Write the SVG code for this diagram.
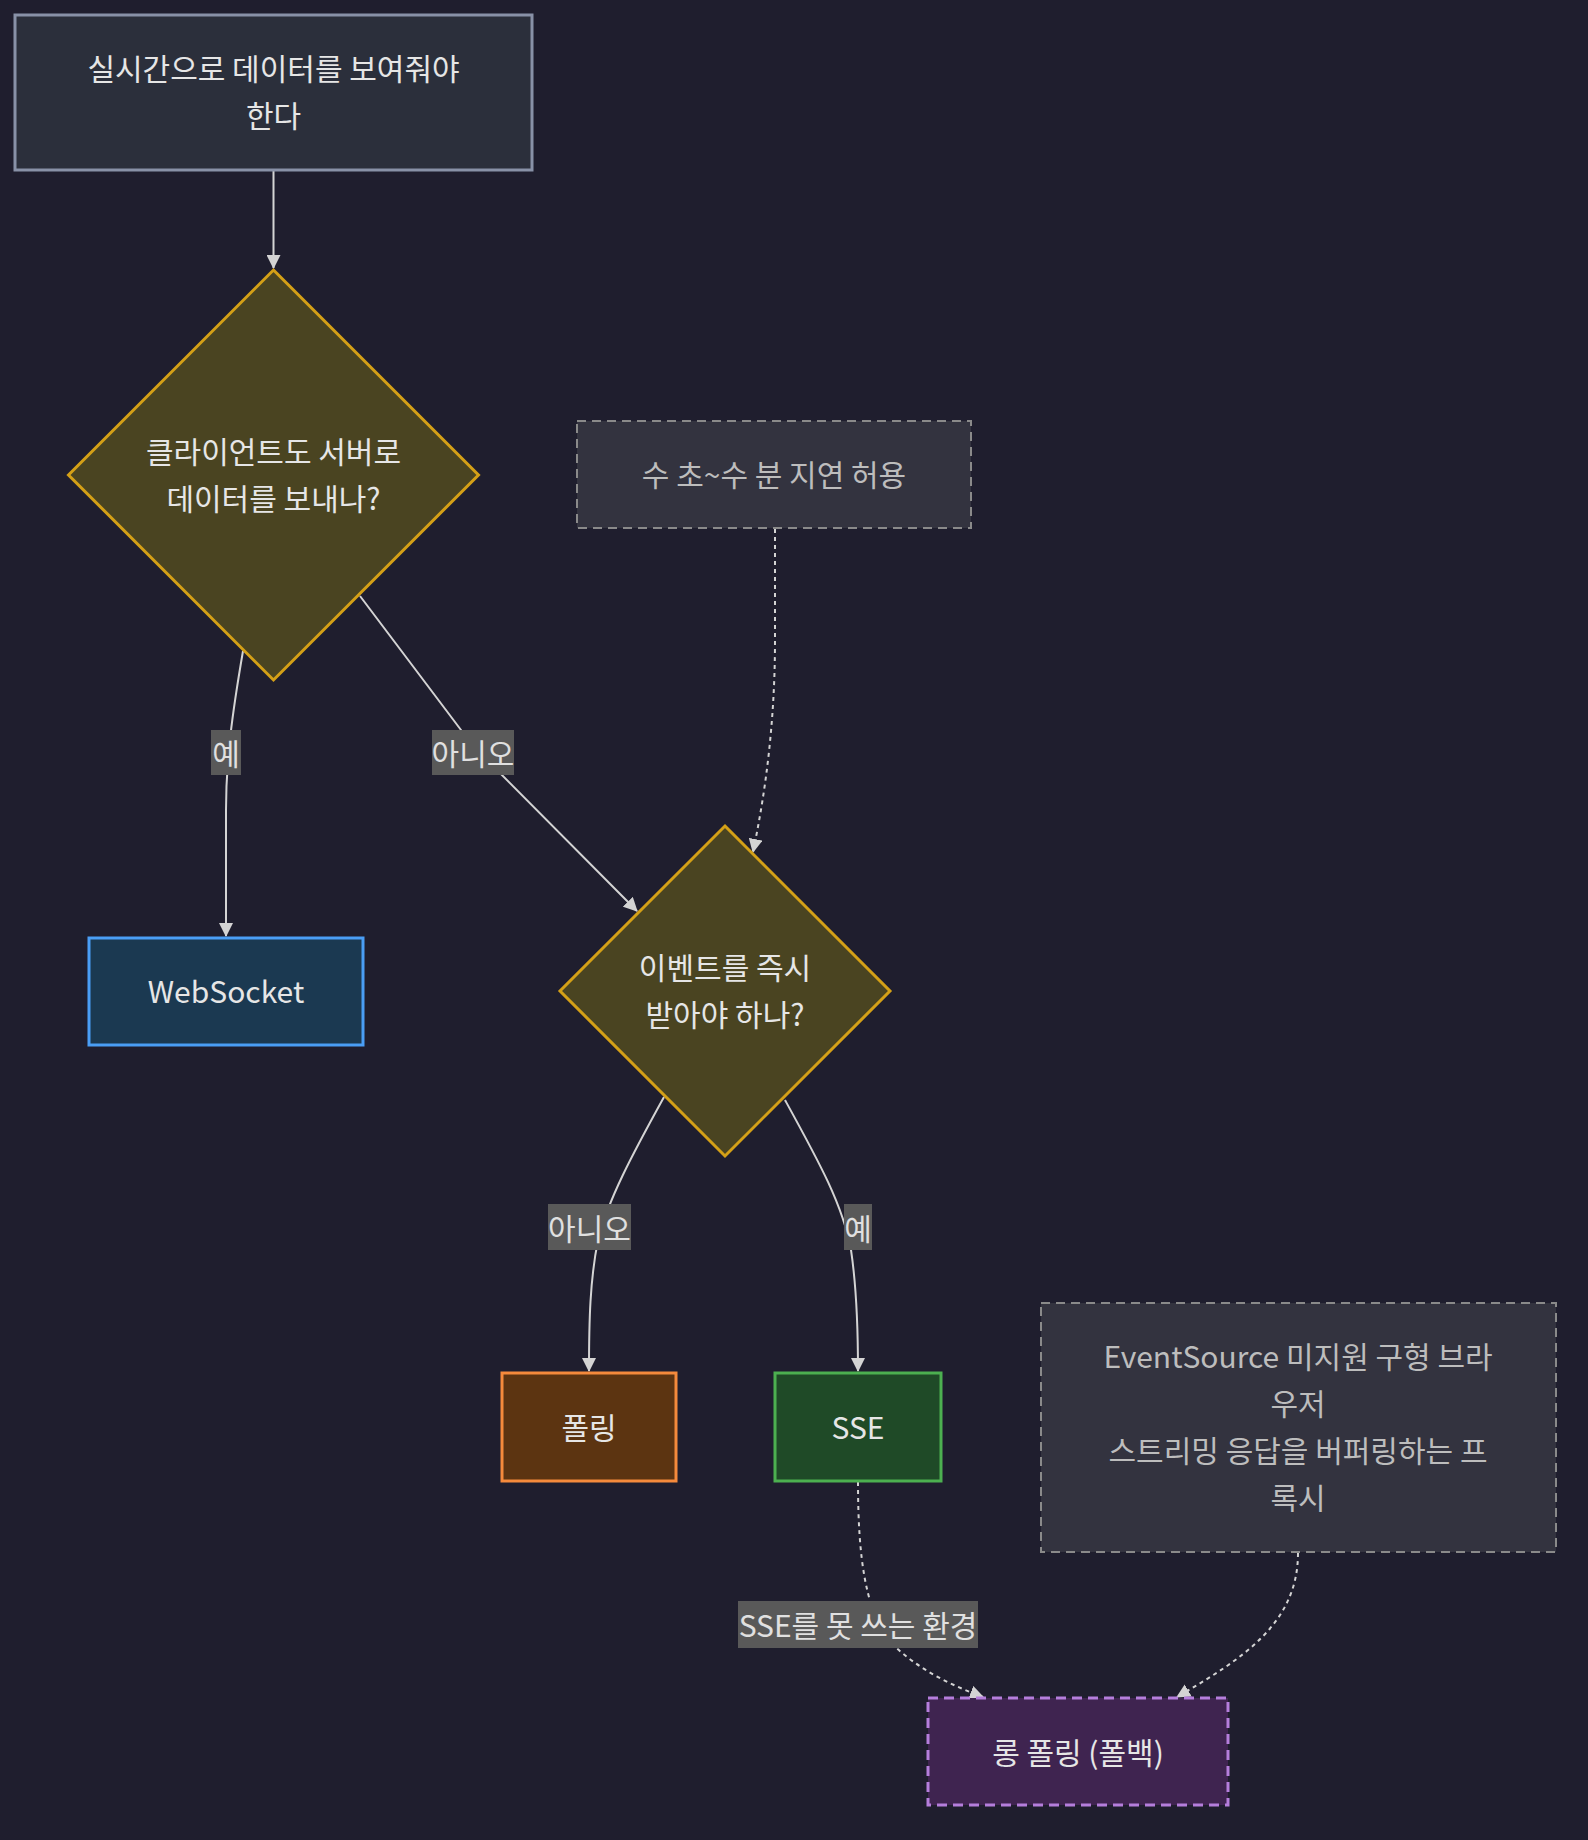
<svg xmlns="http://www.w3.org/2000/svg" width="1588" height="1840" viewBox="0 0 1588 1840">
<defs>
<marker id="arr" viewBox="0 0 14 14" refX="13" refY="7" markerWidth="14" markerHeight="14" markerUnits="userSpaceOnUse" orient="auto">
<path d="M0,0 L14,7 L0,14 z" fill="#d4d4d4"/>
</marker>
<style>
text{font-family:"Noto Sans CJK KR","Noto Sans",sans-serif;font-size:30px;text-anchor:middle;dominant-baseline:central;fill:#e6e6e6}
.note text{fill:#bdbdbd}
.note rect{fill:#33333f;stroke:#8a8a8a;stroke-width:2;stroke-dasharray:9 6}
.edge{fill:none;stroke:#d4d4d4;stroke-width:2}
.dot{stroke-dasharray:4 4}
.lbl rect{fill:#595959}
.lbl text{fill:#e0e0e0}
</style>
</defs>
<rect width="1588" height="1840" fill="#1f1e2e"/>

<g id="connectors">
<path class="edge" d="M273.5,171 L273.5,268" marker-end="url(#arr)"/>
<path class="edge" d="M243,651 C232,715 226,760 226,810 L226,936" marker-end="url(#arr)"/>
<path class="edge" d="M360,596 L461,730 Q473,746 488,761 L637,911" marker-end="url(#arr)"/>
<path class="edge dot" d="M775,529 L775,640 C775,720 766,790 753,852" marker-end="url(#arr)"/>
<path class="edge" d="M664,1097 C632,1155 608,1200 598,1240 C590,1280 589,1320 589,1371" marker-end="url(#arr)"/>
<path class="edge" d="M785,1100 C818,1160 843,1205 851,1250 C857,1290 858,1330 858,1371" marker-end="url(#arr)"/>
<path class="edge dot" d="M858,1482 C858,1560 866,1605 886,1638 C915,1668 948,1684 983,1697" marker-end="url(#arr)"/>
<path class="edge dot" d="M1298,1553 C1298,1625 1240,1660 1177,1697" marker-end="url(#arr)"/>
<g class="lbl" id="lbl-yes1"><rect x="211" y="730" width="30" height="45"/><text x="226" y="752">예</text></g>
<g class="lbl" id="lbl-no1"><rect x="432" y="730" width="82" height="45"/><text x="473" y="752">아니오</text></g>
<g class="lbl" id="lbl-no2"><rect x="548" y="1204" width="83" height="46"/><text x="589.5" y="1227">아니오</text></g>
<g class="lbl" id="lbl-yes2"><rect x="844" y="1204" width="28" height="46"/><text x="858" y="1227">예</text></g>
<g class="lbl" id="lbl-sse"><rect x="738" y="1601" width="240" height="47"/><text x="858" y="1624">SSE를 못 쓰는 환경</text></g>
</g>

<g id="start">
<rect x="15" y="15" width="517" height="155" fill="#2b2f3b" stroke="#8891a7" stroke-width="3"/>
<text x="273.5" y="67">실시간으로 데이터를 보여줘야</text>
<text x="273.5" y="114">한다</text>
</g>

<g id="q1">
<polygon points="273.5,270 478.5,475 273.5,680 68.5,475" fill="#4a4421" stroke="#d4a017" stroke-width="3"/>
<text x="273.5" y="449.5">클라이언트도 서버로</text>
<text x="273.5" y="496.5">데이터를 보내나?</text>
</g>

<g id="note1" class="note">
<rect x="577" y="421" width="394" height="107"/>
<text x="774" y="473">수 초~수 분 지연 허용</text>
</g>

<g id="q2">
<polygon points="725,826 890,991 725,1156 560,991" fill="#4a4421" stroke="#d4a017" stroke-width="3"/>
<text x="725" y="966">이벤트를 즉시</text>
<text x="725" y="1013">받아야 하나?</text>
</g>

<g id="websocket">
<rect x="89" y="938" width="274" height="107" fill="#1b3951" stroke="#4a9ef5" stroke-width="3"/>
<text x="226" y="990">WebSocket</text>
</g>

<g id="polling">
<rect x="502" y="1373" width="174" height="108" fill="#5c3411" stroke="#f58a3c" stroke-width="3"/>
<text x="589" y="1426">폴링</text>
</g>

<g id="sse">
<rect x="775" y="1373" width="166" height="108" fill="#1f4a27" stroke="#4cb050" stroke-width="3"/>
<text x="858" y="1426">SSE</text>
</g>

<g id="note2" class="note">
<rect x="1041" y="1303" width="515" height="249"/>
<text x="1298" y="1354.5">EventSource 미지원 구형 브라</text>
<text x="1298" y="1401.5">우저</text>
<text x="1298" y="1449">스트리밍 응답을 버퍼링하는 프</text>
<text x="1298" y="1496">록시</text>
</g>

<g id="longpoll">
<rect x="928" y="1698" width="300" height="107" fill="#3f2450" stroke="#b57edc" stroke-width="3" stroke-dasharray="10 6"/>
<text x="1078" y="1751">롱 폴링 (폴백)</text>
</g>
</svg>
